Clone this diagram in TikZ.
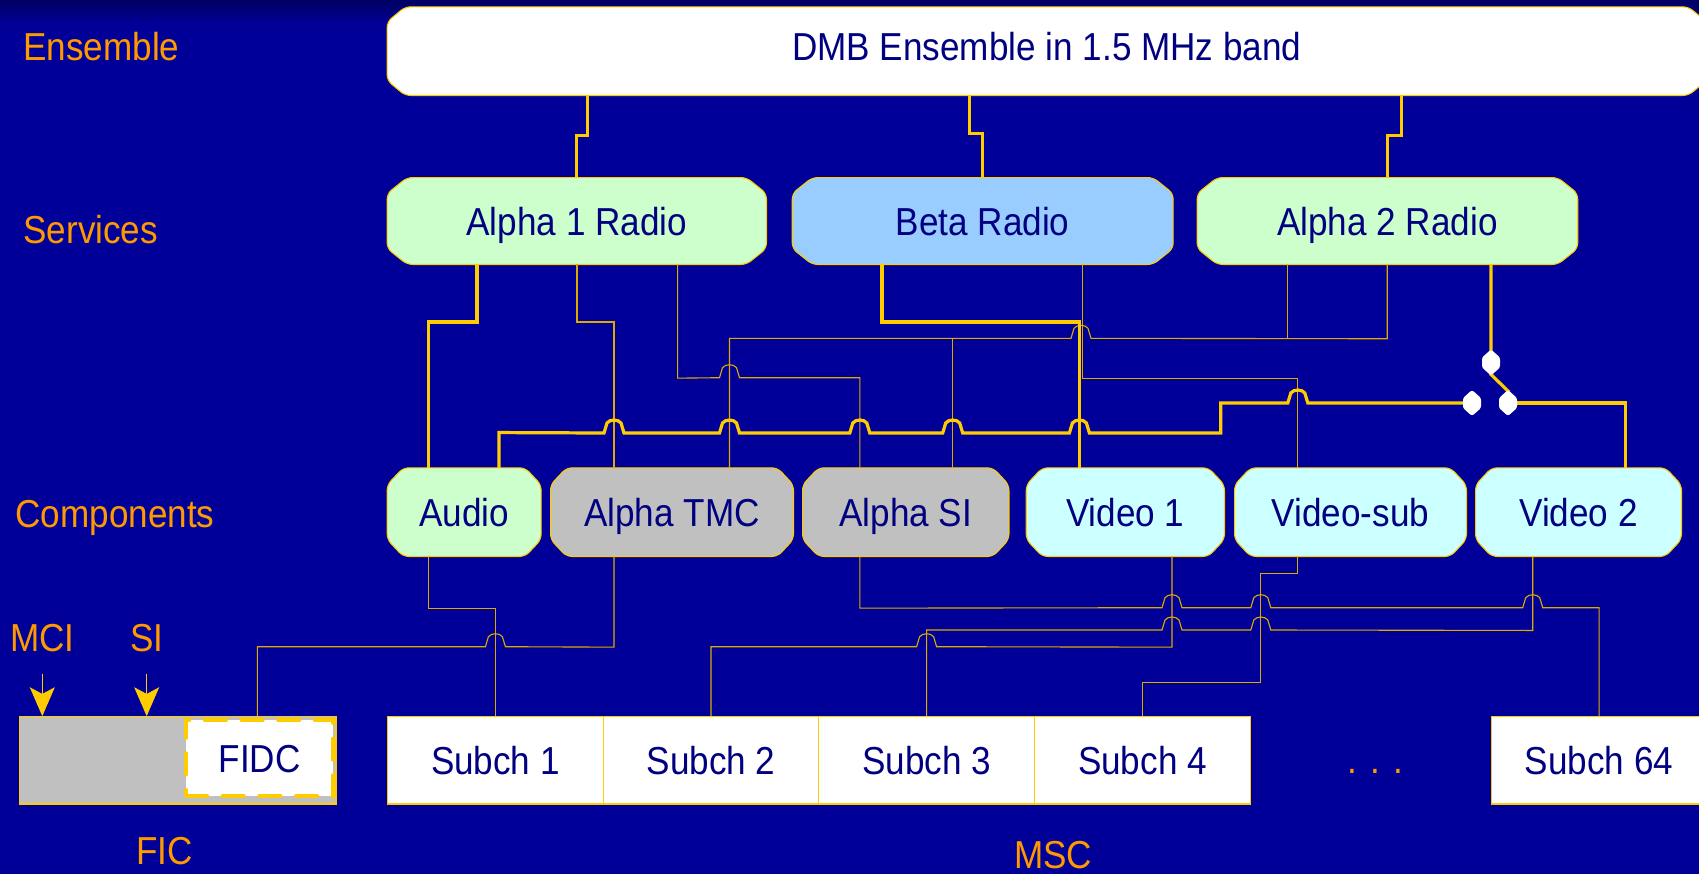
\documentclass[tikz,border=0pt]{standalone}
\usepackage{fontspec}
\setmainfont{Liberation Sans}[FakeStretch=0.9]
\usetikzlibrary{calc,arrows.meta}
\pgfdeclarelayer{bgl}
\pgfdeclarelayer{shp}
\pgfsetlayers{bgl,shp,main}
\definecolor{bgblue}{RGB}{0,0,153}
\definecolor{bgtop}{RGB}{0,0,100}
\definecolor{ylw}{RGB}{255,204,0}
\definecolor{thinc}{RGB}{221,170,0}
\definecolor{orng}{RGB}{255,153,0}
\definecolor{navy}{RGB}{0,0,128}
\definecolor{lgreen}{RGB}{204,255,204}
\definecolor{lblue}{RGB}{153,204,255}
\definecolor{lcyan}{RGB}{204,255,255}
\definecolor{lgray}{RGB}{192,192,192}
\newcommand{\hopR}[2]{-- ({#1-10},#2) -- ({#1-7},{#2-10}) .. controls ({#1-4},{#2-14}) and ({#1+4},{#2-14}) .. ({#1+7},{#2-10}) -- ({#1+10},#2)}
\newcommand{\hopL}[2]{-- ({#1+10},#2) -- ({#1+7},{#2-10}) .. controls ({#1+4},{#2-14}) and ({#1-4},{#2-14}) .. ({#1-7},{#2-10}) -- ({#1-10},#2)}
\newcommand{\chbox}[4]{\path[boxline,fill=#2] ($(#1.north west)+(#3,0)$) -- ($(#1.north east)+(-#3,0)$) -- ($(#1.north east)+(0,#4)$) -- ($(#1.south east)+(0,-#4)$) -- ($(#1.south east)+(-#3,0)$) -- ($(#1.south west)+(#3,0)$) -- ($(#1.south west)+(0,-#4)$) -- ($(#1.north west)+(0,#4)$) -- cycle;}
\newcommand{\contact}[1]{\fill[white, rounded corners=1pt] ($(#1)+(0,-13)$) -- ($(#1)+(9,-5)$) -- ($(#1)+(9,5)$) -- ($(#1)+(0,13)$) -- ($(#1)+(-9,5)$) -- ($(#1)+(-9,-5)$) -- cycle;}
\begin{document}
\begin{tikzpicture}[x=0.45pt,y=-0.45pt,
  every node/.style={inner sep=0pt, font=\fontsize{17.55}{20}\selectfont},
  bx/.style 2 args={rectangle, minimum width=#1*0.45pt, minimum height=#2*0.45pt, text=navy, text height=12.6pt, text depth=0pt},
  sub/.style={bx={215.6}{87.3}, draw=ylw, line width=0.5pt, fill=white},
  lbl/.style={text=orng, anchor=base west},
  olbl/.style={text=orng, anchor=base},
  thk/.style={draw=ylw, line width=1.45pt},
  thn/.style={draw=thinc, line width=0.5pt},
  boxline/.style={draw=ylw, line width=0.5pt, rounded corners=2.5pt},
  arr/.style={draw=ylw, line width=0.5pt, -{Stealth[length=13pt,width=11.25pt,inset=3pt]}}]
\useasboundingbox (0,0) rectangle (1699,874);
\begin{pgfonlayer}{bgl}
\fill[bgblue] (0,0) rectangle (1699,874);
\shade[top color=bgtop, bottom color=bgblue] (0,0) rectangle (1699,25);
\end{pgfonlayer}

% left labels
\node[lbl] (lens) at (23,60) {Ensemble};
\node[lbl] (lser) at (23,243) {Services};
\node[lbl] (lcomp) at (15,527.3) {Components};
\node[olbl] (lmci) at (42.3,651.7) {MCI};
\node[olbl] (lsi) at (146.7,651.7) {SI};
\node[olbl] (lfic) at (164.4,864) {FIC};
\node[olbl] (lmsc) at (1053.3,868) {MSC};
\node[olbl] (dots) at (1375.5,773) {. . .};

% ensemble
\node[bx={1318.4}{87.7}, text depth=4.5pt] (ens) at (1046.8,51.15) {DMB Ensemble in 1.5 MHz band};
% services
\node[bx={378.4}{86}] (a1) at (576.8,221) {Alpha 1 Radio};
\node[bx={380}{86}] (beta) at (982.7,221) {Beta Radio};
\node[bx={379.7}{86}] (a2) at (1387.45,221) {Alpha 2 Radio};
% components
\node[bx={153.1}{87.7}] (audio) at (464.15,512.15) {Audio};
\node[bx={242}{87.7}] (tmc) at (672,512.15) {Alpha TMC};
\node[bx={205.5}{87.7}] (si) at (905.75,512.15) {Alpha SI};
\node[bx={197.3}{87.7}] (v1) at (1125.35,512.15) {Video 1};
\node[bx={231}{87.7}] (vsub) at (1350.5,512.15) {Video-sub};
\node[bx={205}{87.7}] (v2) at (1578.5,512.15) {Video 2};

\begin{pgfonlayer}{shp}
\chbox{ens}{white}{18}{15}
\chbox{a1}{lgreen}{20}{16}
\chbox{beta}{lblue}{20}{16}
\chbox{a2}{lgreen}{20}{16}
\chbox{audio}{lgreen}{16}{17}
\chbox{tmc}{lgray}{16}{17}
\chbox{si}{lgray}{16}{17}
\chbox{v1}{lcyan}{16}{17}
\chbox{vsub}{lcyan}{16}{17}
\chbox{v2}{lcyan}{16}{17}
\end{pgfonlayer}

% sub-channels
\node[sub] (s1) at (495.4,760.35) {Subch 1};
\node[sub] (s2) at (711,760.35) {Subch 2};
\node[sub] (s3) at (926.6,760.35) {Subch 3};
\node[sub] (s4) at (1142.45,760.35) {Subch 4};
\node[sub] (s64) at (1599.1,760.35) {Subch 64};

% FIC
\node[rectangle, draw=ylw, line width=0.5pt, fill=lgray, minimum width=316.7*0.45pt, minimum height=87.3*0.45pt] (fic) at (177.65,760.35) {};
\node[bx={147}{76}, fill=white, draw=ylw, line width=1.8pt, dash pattern=on 9.5pt off 7pt, line cap=round] (fidc) at (259.5,758) {FIDC};

\draw[arr] ($(lmci.south)+(0,21)$) -- (lmci.south |- fic.north);
\draw[arr] ($(lsi.south)+(0,21)$) -- (lsi.south |- fic.north);

% ensemble -> services
\draw[thk] ($(ens.south west)+(200.4,0)$) -- ++(0,40) -| (a1.north);
\draw[thk] ($(ens.south west)+(582.6,0)$) -- ++(0,38) -| (beta.north);
\draw[thk] ($(ens.south west)+(1014.7,0)$) -- ++(0,40) -| (a2.north);

% switch contacts
\coordinate (ct1) at (1472,403);
\coordinate (ct2) at (1508,403);
\coordinate (ct3) at (1491,362.5);

% services -> components (thin)
\draw[thn] ($(a1.south)+(0.2,0)$) -- ++(0,57.5) -| ($(tmc.north)+(-58,0)$);
\draw[thn] ($(a1.south)+(100.8,0)$) -- ++(0,113.7) \hopR{729.5}{377.7} -| ($(si.north)+(-45.95,0)$);
\draw[thn] ($(beta.south)+(99.8,0)$) -- ++(0,113.7) -| ($(vsub.north)+(-52.7,0)$);
\draw[thn] ($(a2.south)+(-0.25,0)$) -- ++(0,74.3) \hopL{1081}{338.3} -| ($(tmc.north)+(57.5,0)$);
\draw[thn] ($(a2.south)+(-99.95,0)$) -- ++(0,74.3);
\draw[thn] ($(si.north)+(46.95,-130)$) -- ($(si.north)+(46.95,0)$);

% services -> components (thick)
\draw[thk] ($(a1.south)+(-99.8,0)$) -- ++(0,57.5) -| ($(audio.north)+(-35.95,0)$);
\draw[thk] ($(beta.south)+(-100.7,0)$) -- ++(0,57.5) -| ($(v1.north)+(-45.95,0)$);
\draw[thk] ($(audio.north)+(34.85,0)$) -- ++(0,-35.3) \hopR{614}{433} \hopR{729.5}{433} \hopR{859.8}{433} \hopR{952.7}{433} \hopR{1079.4}{433} -- (1220.7,433) -- (1220.7,403) \hopR{1297.8}{403} -- (ct1);
\draw[thk] ($(a2.south)+(103.5,0)$) -- (ct3);
\draw[thk] ($(ct3)+(-1,11)$) -- ($(ct2)+(1,-11)$);
\draw[thk] (ct2) -| ($(v2.north)+(47,0)$);
\contact{ct1}
\contact{ct2}
\contact{ct3}

% components -> sub-channels
\draw[thn] ($(audio.south)+(-35.95,0)$) -- ++(0,51.7) -| (s1.north);
\draw[thn] ($(tmc.south)+(-58,0)$) -- ++(0,90.7) \hopL{495.4}{646.7} -| ($(fic.north)+(79.7,0)$);
\draw[thn] ($(si.south)+(-45.85,0)$) -- ++(0,51.7) \hopR{1172}{607.7} \hopR{1260.8}{607.7} \hopR{1532.7}{607.7} -| (s64.north);
\draw[thn] ($(v2.south)+(-45.8,0)$) -- ++(0,74) \hopL{1260.8}{630} \hopL{1172}{630} -| (s3.north);
\draw[thn] ($(v1.south)+(46.65,0)$) -- ++(0,90.7) \hopL{926.6}{646.7} -| (s2.north);
\draw[thn] ($(vsub.south)+(-52.7,0)$) -- ++(0,17.3) -- ++(-37,0) -- ++(0,108.4) -| (s4.north);
\end{tikzpicture}
\end{document}
